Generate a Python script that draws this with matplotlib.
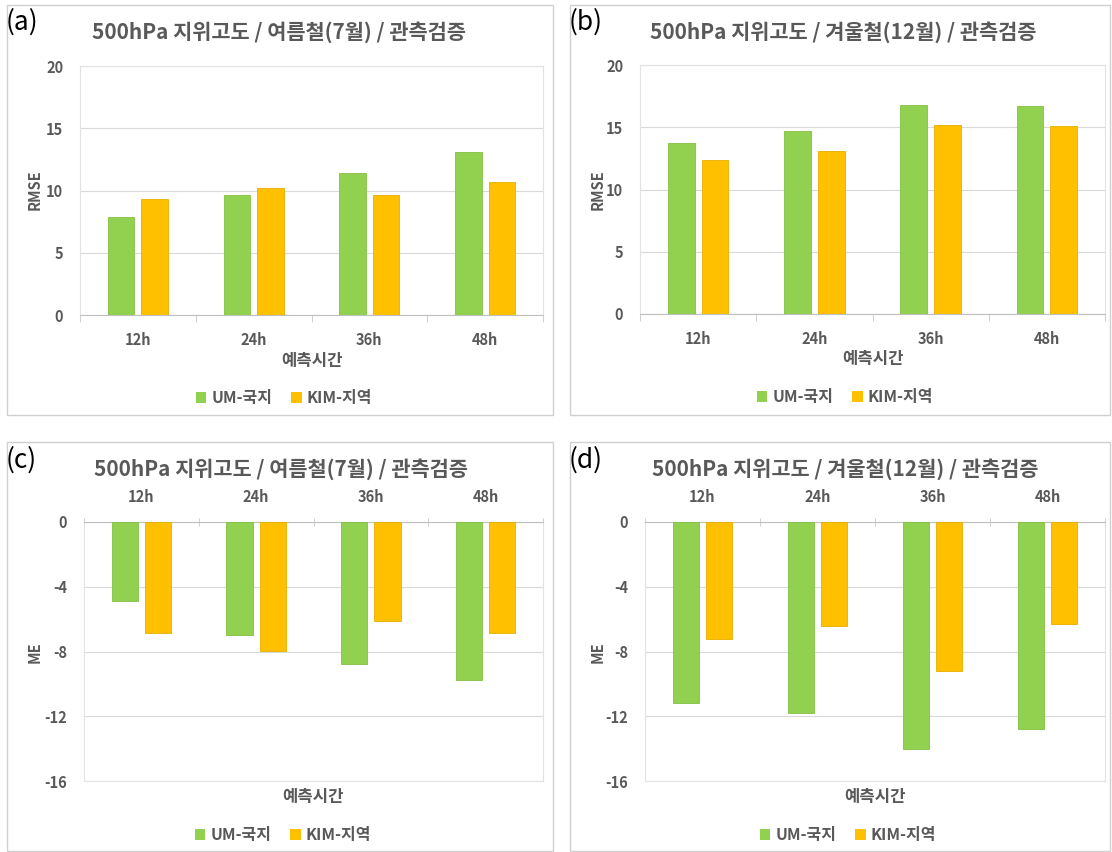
import numpy as np
import matplotlib
matplotlib.use("Agg")
import matplotlib.pyplot as plt
from matplotlib.patches import Rectangle, Patch

plt.rcParams['font.family'] = ['Noto Sans CJK KR', 'DejaVu Sans']

hours = ['12h', '24h', '36h', '48h']
series = ['UM-국지', 'KIM-지역']

rmse_summer_um = [7.9, 9.6, 11.4, 13.1]
rmse_summer_kim = [9.3, 10.2, 9.6, 10.7]
rmse_winter_um = [13.7, 14.7, 16.8, 16.7]
rmse_winter_kim = [12.4, 13.1, 15.2, 15.1]
me_summer_um = [-4.9, -7.0, -8.8, -9.75]
me_summer_kim = [-6.85, -7.95, -6.1, -6.85]
me_winter_um = [-11.2, -11.8, -14.0, -12.8]
me_winter_kim = [-7.2, -6.45, -9.2, -6.3]

title_summer = '500hPa 지위고도 / 여름철(7월) / 관측검증'
title_winter = '500hPa 지위고도 / 겨울철(12월) / 관측검증'

GREEN = '#92D050'
ORANGE = '#FFC000'
TXT = '#595959'
GRID = '#D9D9D9'

W, H = 1112, 852
fig = plt.figure(figsize=(W / 100, H / 100), dpi=100)


def fx(x):
    return x / W


def fy(y):
    return 1 - y / H


def add_ax(left, top, right, bottom):
    return fig.add_axes([fx(left), fy(bottom), (right - left) / W, (bottom - top) / H])


# panel frames
for (l, t, r, b) in [(7, 5, 553, 415), (570, 5, 1110, 415), (7, 442, 553, 851), (570, 442, 1110, 851)]:
    fig.patches.append(Rectangle((fx(l), fy(b)), (r - l) / W, (b - t) / H,
                                 transform=fig.transFigure, fill=False,
                                 edgecolor='#D0D0D0', lw=1.0))

panels = [
    # label, label pos, axes box, data, title, title pos, ylabel, ylabel pos, ylim, yticks, top axis, xlabel pos, legend pos
    ('(a)', (6, 22), (80, 66, 543, 315), rmse_summer_um, rmse_summer_kim, title_summer, (279, 32),
     'RMSE', (35, 190), (0, 20), [0, 5, 10, 15, 20], False, (312, 361), (284, 398)),
    ('(b)', (569, 22), (640, 65, 1105, 314), rmse_winter_um, rmse_winter_kim, title_winter, (843, 32),
     'RMSE', (598, 190), (0, 20), [0, 5, 10, 15, 20], False, (873, 359), (845, 397)),
    ('(c)', (6, 460), (84, 522, 543, 781), me_summer_um, me_summer_kim, title_summer, (281, 469),
     'ME', (35, 652), (-16, 0), [0, -4, -8, -12, -16], True, (313, 797), (283, 835)),
    ('(d)', (569, 460), (645, 522, 1105, 781), me_winter_um, me_winter_kim, title_winter, (845, 469),
     'ME', (598, 652), (-16, 0), [0, -4, -8, -12, -16], True, (875, 797), (848, 835)),
]

x = np.arange(len(hours))
bw = 0.23
off = 0.145

for (lab, lpos, box, um, kim, title, tpos, ylab, ypos, ylim, yt, top, xlpos, legpos) in panels:
    ax = add_ax(*box)
    ax.bar(x - off, um, bw, color=GREEN, edgecolor='#84C043', lw=0.6, zorder=3)
    ax.bar(x + off, kim, bw, color=ORANGE, edgecolor='#E8AE00', lw=0.6, zorder=3)
    ax.set_xlim(-0.5, 3.5)
    ax.set_ylim(*ylim)
    ax.set_yticks(yt)
    ax.set_yticklabels([str(v) for v in yt], fontsize=10.5, fontweight='bold', color=TXT)
    ax.tick_params(axis='y', length=0, pad=12)
    ax.grid(axis='y', color=GRID, lw=0.8, zorder=0)
    ax.set_axisbelow(True)
    for s in ax.spines.values():
        s.set_color('#E3E3E3')
        s.set_linewidth(0.8)
    ax.set_xticks(x)
    ax.set_xticks(np.arange(-0.5, 4, 1.0), minor=True)
    if top:
        ax.xaxis.tick_top()
        ax.spines['top'].set_color('#BFBFBF')
        ax.tick_params(axis='x', which='major', length=0, pad=12, top=True, bottom=False)
        ax.tick_params(axis='x', which='minor', length=6, direction='inout', color='#C8C8C8',
                       top=True, bottom=False)
    else:
        ax.spines['bottom'].set_color('#BFBFBF')
        ax.tick_params(axis='x', which='major', length=0, pad=12)
        ax.tick_params(axis='x', which='minor', length=5, color='#C8C8C8')
    ax.set_xticklabels(hours, fontsize=10.5, fontweight='bold', color=TXT)

    fig.text(fx(lpos[0]), fy(lpos[1]), lab, fontsize=19, ha='left', va='center', color='black')
    fig.text(fx(tpos[0]), fy(tpos[1]), title, fontsize=15, fontweight='bold', color=TXT,
             ha='center', va='center')
    fig.text(fx(ypos[0]), fy(ypos[1]), ylab, fontsize=10.5, fontweight='bold', color=TXT,
             rotation=90, ha='center', va='center')
    fig.text(fx(xlpos[0]), fy(xlpos[1]), '예측시간', fontsize=12, fontweight='bold', color=TXT,
             ha='center', va='center')
    handles = [Patch(facecolor=GREEN, edgecolor='none', label=series[0]),
               Patch(facecolor=ORANGE, edgecolor='none', label=series[1])]
    fig.legend(handles=handles, loc='center', bbox_to_anchor=(fx(legpos[0]), fy(legpos[1])),
               ncol=2, frameon=False, handlelength=0.65, handleheight=0.65, handletextpad=0.3,
               columnspacing=1.2, prop={'size': 11.5, 'weight': 'bold'}, labelcolor=TXT)

fig.savefig('out.png', dpi=100)
